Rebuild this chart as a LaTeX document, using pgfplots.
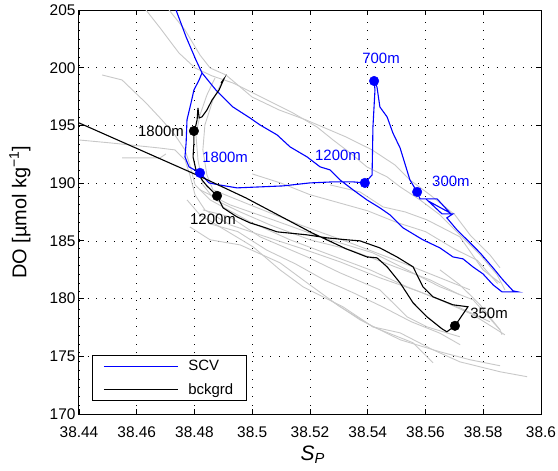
\documentclass[border=0pt]{standalone}
\usepackage{pgfplots}
\pgfplotsset{compat=1.18}
\usepackage{fontspec}
\setmainfont{Liberation Sans}
\definecolor{lgray}{RGB}{200,200,200}
\definecolor{mblue}{RGB}{0,0,255}
\begin{document}
\begin{tikzpicture}
\begin{axis}[
  at={(0,0)}, anchor=south west, scale only axis,
  width=462bp, height=404bp,
  xmin=38.44, xmax=38.6, ymin=170, ymax=205,
  xtick={38.44,38.46,38.48,38.5,38.52,38.54,38.56,38.58,38.6},
  xticklabels={38.44,38.46,38.48,38.5,38.52,38.54,38.56,38.58,38.6},
  ytick={170,175,180,185,190,195,200,205},
  yticklabels={170,175,180,185,190,195,200,205},
  tick align=inside, major tick length=5bp,
  xtick pos=both, ytick pos=both,
  grid=major,
  major grid style={black, line width=0.6bp, dash pattern=on 0.7bp off 8bp},
  axis line style={line width=1bp},
  every tick/.style={black, line width=0.8bp},
  tick label style={font=\fontsize{15.5}{18}\selectfont},
  xticklabel style={yshift=-9bp},
  /pgf/number format/assume math mode=true,
  xlabel={\itshape S\textsubscript{P}},
  xlabel style={at={(axis description cs:0.506,-0.1015)}, anchor=center, font=\fontsize{21}{24}\selectfont},
  ylabel={DO [µmol kg\textsuperscript{−1}]},
  ylabel style={at={(axis description cs:-0.1277,0.5)}, anchor=center, font=\fontsize{20}{23}\selectfont},
  legend style={at={(axis description cs:0.028,0.032)}, anchor=south west,
    draw=black, line width=0.8bp, font=\fontsize{15}{17}\selectfont,
    inner xsep=11bp, inner ysep=3bp, row sep=7bp, column sep=8bp},
  legend cell align=left,
  legend image code/.code={\draw[#1, line width=1.1bp] (0bp,0bp) -- (74bp,0bp);},
  gline/.style={lgray, line width=0.9bp, forget plot},
]
% ---------- background gray profiles ----------
\addplot[gline] coordinates {(38.4632,205.00)(38.4681,203.44)(38.4746,201.28)(38.4802,199.98)(38.4861,199.29)(38.4933,198.68)(38.5051,197.21)(38.5141,196.08)(38.5224,194.87)(38.5280,193.74)(38.5339,192.62)(38.5397,191.41)(38.5467,190.54)(38.5512,189.68)(38.5581,188.55)(38.5650,187.25)(38.5719,185.52)(38.5789,183.79)(38.5848,182.06)(38.5875,180.76)};
\addplot[gline] coordinates {(38.4712,205.00)(38.4767,203.27)(38.4819,201.10)(38.4854,199.98)(38.4909,199.37)(38.4999,197.47)(38.5093,196.34)(38.5186,195.48)(38.5325,194.00)(38.5415,192.88)(38.5494,191.58)(38.5546,190.28)(38.5616,188.98)(38.5702,187.25)(38.5754,185.52)(38.5823,183.79)(38.5858,182.66)};
\addplot[gline] coordinates {(38.4480,199.37)(38.4549,198.94)(38.4632,196.95)(38.4687,195.48)(38.4732,194.18)(38.4767,192.88)(38.4784,191.58)(38.4802,189.85)(38.4854,188.55)(38.4992,186.65)(38.5131,185.09)(38.5269,183.79)(38.5408,182.49)(38.5536,181.02)(38.5650,179.89)(38.5765,178.59)(38.5875,176.86)};
\addplot[gline] coordinates {(38.4400,193.74)(38.4507,193.49)(38.4677,193.05)(38.4732,192.88)(38.4767,192.01)(38.4784,190.71)(38.4802,188.98)(38.4836,187.68)(38.4923,186.39)(38.5027,185.52)(38.5165,184.39)(38.5304,183.18)(38.5442,181.80)(38.5581,180.58)(38.5719,179.20)(38.5823,177.99)};
\addplot[gline] coordinates {(38.4549,192.19)(38.4681,192.19)(38.4701,192.53)};
\addplot[gline] coordinates {(38.4774,188.55)(38.4819,187.25)(38.5003,184.48)(38.5096,182.49)(38.5176,181.02)(38.5314,179.29)(38.5418,177.55)(38.5512,177.03)(38.5626,175.56)(38.5719,174.52)(38.5858,173.66)(38.5952,173.23)};
\addplot[gline] coordinates {(38.4784,186.21)(38.4854,185.09)(38.4958,184.65)(38.5096,183.10)(38.5190,181.36)(38.5304,179.29)(38.5418,177.55)(38.5557,176.17)(38.5626,174.44)};
\addplot[gline] coordinates {(38.4829,187.68)(38.4923,187.08)(38.5027,185.35)(38.5190,183.61)(38.5304,182.23)(38.5442,180.76)(38.5536,178.42)(38.5605,177.55)(38.5719,176.69)};
\addplot[gline] coordinates {(38.4819,189.42)(38.4923,188.12)(38.5072,186.82)(38.5235,185.35)(38.5418,183.96)(38.5536,182.49)(38.5650,181.02)(38.5765,179.89)(38.5858,177.29)};
\addplot[gline] coordinates {(38.5269,189.85)(38.5373,189.24)(38.5453,187.94)(38.5529,187.51)(38.5605,186.82)(38.5719,185.35)(38.5799,182.49)(38.5858,181.36)};
\addplot[gline] coordinates {(38.4871,199.11)(38.4843,197.64)(38.4819,195.91)(38.4805,194.18)(38.4812,192.01)(38.4829,189.85)(38.4871,188.55)(38.4958,187.51)(38.5061,186.39)(38.5200,185.09)(38.5339,184.22)(38.5477,182.92)(38.5616,181.62)(38.5719,180.33)};
\addplot[gline] coordinates {(38.4902,199.11)(38.4864,197.21)(38.4836,195.04)(38.4829,192.88)(38.4843,190.71)(38.4864,189.42)(38.4992,188.12)(38.5165,186.39)(38.5339,184.83)(38.5512,183.18)(38.5650,181.80)(38.5754,180.76)};
\addplot[gline] coordinates {(38.5269,179.89)(38.5373,178.16)(38.5512,176.43)(38.5650,175.39)(38.5754,174.70)(38.5858,174.18)};
\addplot[gline] coordinates {(38.5650,182.49)(38.5719,181.19)(38.5789,179.46)(38.5858,177.29)(38.5865,176.86)};
\addplot[gline] coordinates {(38.4850,186.50)(38.4950,185.80)(38.5050,184.20)(38.5150,183.00)(38.5250,181.60)(38.5350,180.50)(38.5450,179.30)(38.5550,178.00)(38.5650,177.00)(38.5720,176.00)};
\addplot[gline] coordinates {(38.5000,190.80)(38.5100,190.00)(38.5200,189.00)(38.5300,188.30)(38.5400,187.60)(38.5500,186.60)(38.5600,185.80)(38.5700,184.30)(38.5780,183.30)(38.5850,181.30)};
% ---------- SCV profile ----------
\addplot[mblue, draw=mblue, line width=1.1bp] coordinates {
(38.4736,205.00)(38.4771,202.66)(38.4805,200.67)(38.4826,199.55)(38.4874,198.07)(38.4933,196.60)(38.4992,195.65)(38.5027,195.04)(38.5086,194.18)(38.5131,193.14)(38.5190,192.27)(38.5235,191.41)(38.5269,191.15)(38.5304,190.28)(38.5349,189.42)(38.5397,188.55)(38.5442,187.86)(38.5477,187.25)(38.5522,186.13)(38.5591,185.09)(38.5650,184.39)(38.5695,183.61)(38.5730,183.44)(38.5764,182.75)(38.5799,182.14)(38.5834,181.19)(38.5865,180.58)(38.5920,180.58)(38.5903,180.67)(38.5868,181.62)(38.5834,182.66)(38.5789,183.96)(38.5744,185.09)(38.5709,185.95)(38.5674,186.99)(38.5695,187.34)(38.5657,187.34)(38.5609,188.46)(38.5685,187.42)(38.5640,188.64)(38.5581,188.64)(38.5571,189.24)
(38.5546,190.28)(38.5512,193.05)(38.5487,194.35)(38.5467,195.74)(38.5442,196.60)(38.5432,198.33)(38.5422,198.85)(38.5425,198.07)(38.5418,194.87)(38.5415,190.71)(38.5390,190.02)
(38.5349,190.11)(38.5280,190.11)(38.5200,190.02)(38.5106,189.76)(38.4947,189.59)(38.4885,189.85)(38.4850,190.02)(38.4819,190.89)
(38.4781,191.41)(38.4767,192.27)(38.4771,193.48)(38.4774,195.48)(38.4788,196.95)(38.4798,198.07)(38.4816,198.94)(38.4826,199.55)};
\addlegendentry{SCV}
% ---------- background profile ----------
\addplot[black, draw=black, line width=1.1bp] coordinates {
(38.4892,198.68)(38.4902,199.03)(38.4885,198.07)(38.4861,197.21)(38.4843,196.34)(38.4826,195.74)(38.4816,195.65)(38.4812,196.52)(38.4809,195.48)(38.4805,195.04)(38.4798,194.52)
(38.4798,193.48)(38.4795,192.27)(38.4805,191.15)(38.4826,190.28)(38.4843,189.76)(38.4878,188.90)
(38.4899,187.86)(38.4947,187.08)(38.4992,186.56)(38.5037,186.21)(38.5086,185.78)(38.5190,185.52)(38.5259,185.26)(38.5328,185.09)(38.5373,185.00)(38.5442,184.39)(38.5501,183.61)(38.5557,182.75)(38.5591,181.02)(38.5626,180.15)(38.5695,179.46)(38.5747,179.29)(38.5702,177.64)
(38.5674,177.12)(38.5657,177.38)(38.5605,178.42)(38.5557,179.63)(38.5512,181.36)(38.5467,182.75)(38.5432,183.53)(38.5397,183.61)(38.5325,184.31)(38.5207,185.69)(38.4978,188.72)(38.4823,190.54)(38.4400,195.22)};
\addlegendentry{bckgrd}
% ---------- depth markers ----------
\addplot[only marks, mark=*, mark size=4.8bp, mblue, mark options={fill=mblue, draw=mblue}, forget plot] coordinates {(38.5571,189.24)(38.5422,198.85)(38.5390,190.02)(38.4819,190.89)};
\addplot[only marks, mark=*, mark size=4.8bp, black, mark options={fill=black}, forget plot] coordinates {(38.4798,194.52)(38.4878,188.90)(38.5702,177.64)};
% ---------- labels ----------
\begin{scope}[every node/.style={font=\fontsize{15}{17}\selectfont, inner sep=0pt, anchor=center}]
\node[text=mblue] at (38.5446,200.84) {700m};
\node[text=mblue] at (38.5297,192.45) {1200m};
\node[text=mblue] at (38.5688,190.19) {300m};
\node[text=mblue] at (38.4906,192.27) {1800m};
\node[text=black] at (38.4684,194.52) {1800m};
\node[text=black] at (38.4864,186.90) {1200m};
\node[text=black] at (38.5820,178.68) {350m};
\end{scope}
\end{axis}
\pgfresetboundingbox
\path (-79bp,-57bp) rectangle (479bp,414bp);
\end{tikzpicture}
\end{document}
